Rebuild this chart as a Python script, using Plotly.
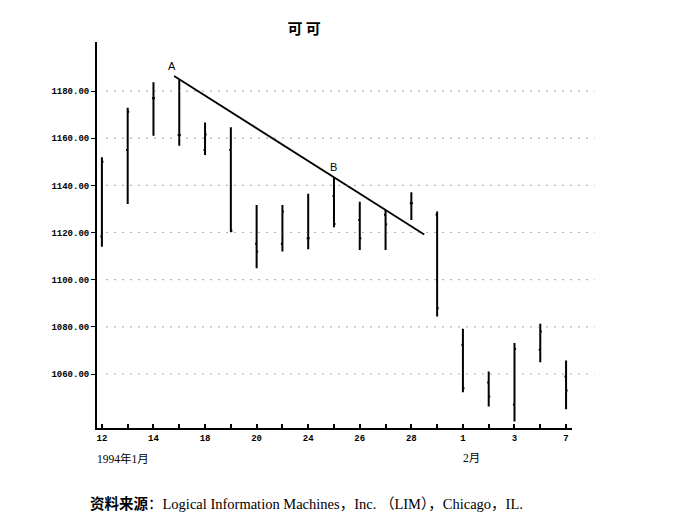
# cocoa futures bar chart, Jan-Feb 1994
import plotly.graph_objects as go

# trading days (Jan 12 .. Feb 7, 1994)
days = ['12', '13', '14', '17', '18', '19', '20', '21', '24', '25', '26', '27', '28', '31',
        '1', '2', '3', '4', '7']
day_labels = ['12', '', '14', '', '18', '', '20', '', '24', '', '26', '', '28', '',
              '1', '', '3', '', '7']

# prices
high = [1151.9, 1172.9, 1183.7, 1185.0, 1166.7, 1164.6, 1131.7, 1131.7, 1136.4, 1143.4,
        1133.1, 1129.6, 1137.1, 1128.9, 1079.2, 1061.1, 1073.1, 1081.3, 1065.7]
low = [1114.0, 1132.1, 1161.0, 1156.8, 1152.9, 1120.1, 1104.9, 1111.9, 1112.9, 1122.2,
       1112.6, 1112.6, 1125.3, 1084.4, 1052.3, 1046.2, 1039.9, 1065.0, 1045.1]
open_ = [1118.3, 1155.0, 1176.9, 1161.4, 1155.0, 1155.0, 1115.2, 1115.2, 1117.6, 1135.5,
         1125.3, 1127.5, 1132.4, 1127.5, 1072.4, 1056.4, 1047.0, 1070.3, 1058.9]
close = [1150.0, 1171.2, 1176.9, 1161.4, 1161.6, 1120.7, 1112.0, 1128.9, 1117.6, 1123.6,
         1117.6, 1123.5, 1132.4, 1087.9, 1054.0, 1050.5, 1070.6, 1078.0, 1053.0]

# trend line A -> B
trend_x = [2.8, 12.5]
trend_y = [1186.4, 1119.2]

y_ticks = [1060, 1080, 1100, 1120, 1140, 1160, 1180]
y_ticktext = ['1060.00', '1080.00', '1100.00', '1120.00', '1140.00', '1160.00', '1180.00']

x = list(range(len(days)))

fig = go.Figure()
fig.add_trace(go.Ohlc(x=x, open=open_, high=high, low=low, close=close,
                      increasing=dict(line=dict(color='black', width=2)),
                      decreasing=dict(line=dict(color='black', width=2)),
                      tickwidth=0.06, showlegend=False))
fig.add_trace(go.Scatter(x=trend_x, y=trend_y, mode='lines',
                         line=dict(color='black', width=1.8), showlegend=False))

# dotted grid lines, running a bit past the axis end
for v in y_ticks:
    fig.add_shape(type='line', xref='paper', yref='y', x0=0.02, x1=1.048, y0=v, y1=v,
                  line=dict(color='#666666', width=1.2, dash='1px,7px'))

fig.add_annotation(x=2.7, y=1190.5, text='A', showarrow=False,
                   font=dict(family='Liberation Sans', size=11, color='black'))
fig.add_annotation(x=9.0, y=1147.8, text='B', showarrow=False,
                   font=dict(family='Liberation Sans', size=11, color='black'))

fig.update_layout(
    width=673, height=520,
    margin=dict(l=89, r=109, t=34, b=100),
    paper_bgcolor='white', plot_bgcolor='white',
    title=dict(text='可 可', x=0.44, xanchor='center', y=0.96, yanchor='middle',
               font=dict(family='Noto Sans CJK SC', size=15, color='black', weight='bold')),
    xaxis=dict(range=[-0.19, 18.23], tickmode='array', tickvals=x, ticktext=day_labels,
               showgrid=False, zeroline=False, showline=True, linecolor='black', linewidth=2,
               ticks='inside', ticklen=4, tickwidth=1.5, tickcolor='black',
               tickfont=dict(family='Liberation Mono', size=9, color='black', weight='bold'),
               rangeslider=dict(visible=False), fixedrange=True),
    yaxis=dict(range=[1037.1, 1200.8], tickmode='array', tickvals=y_ticks, ticktext=y_ticktext,
               showgrid=False, zeroline=False, showline=True, linecolor='black', linewidth=2,
               ticks='outside', ticklen=4, tickwidth=1.2, tickcolor='black',
               tickfont=dict(family='Liberation Mono', size=9, color='black', weight='bold')),
)

fig.add_annotation(xref='paper', yref='paper', x=-0.004, y=-0.058, xanchor='left', yanchor='top',
                   text='1994年1月', showarrow=False,
                   font=dict(family='Liberation Serif, Noto Sans CJK SC', size=11.5, color='black'))
fig.add_annotation(xref='paper', yref='paper', x=0.788, y=-0.058, xanchor='center', yanchor='top',
                   text='2月', showarrow=False,
                   font=dict(family='Liberation Serif, Noto Sans CJK SC', size=11.5, color='black'))
fig.add_annotation(xref='paper', yref='paper', x=-0.02, y=-0.17, xanchor='left', yanchor='top',
                   text='<b>资料来源</b>：Logical Information Machines，Inc. （LIM），Chicago，IL.',
                   showarrow=False,
                   font=dict(family='Liberation Serif, Noto Sans CJK SC', size=14.5, color='black'))

fig.write_html("out.html")
